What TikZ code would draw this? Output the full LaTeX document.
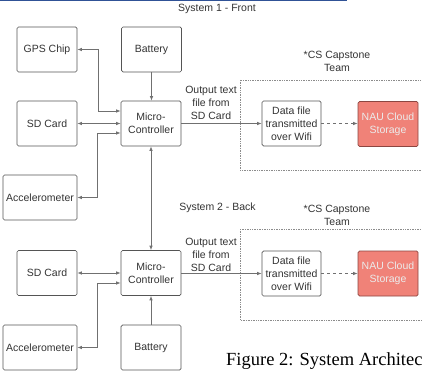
\documentclass[tikz,border=0pt]{standalone}
\usepackage{fontspec}
\setmainfont{Liberation Sans}
\newfontfamily\capfont{Liberation Serif}
\usetikzlibrary{arrows.meta}

\definecolor{wiregrey}{RGB}{112,112,112}
\definecolor{edgegrey}{RGB}{85,85,85}
\definecolor{cloudfill}{RGB}{240,130,120}
\definecolor{cloudedge}{RGB}{140,70,65}
\definecolor{rulebar}{RGB}{48,82,150}

\begin{document}
\begin{tikzpicture}[x=1pt,y=-1pt,
  block/.style={draw=edgegrey,line width=0.7pt,rounded corners=1.5pt,
    minimum width=60pt,minimum height=45pt,inner sep=1pt,align=center,
    font=\fontsize{10.5}{13}\selectfont,text=black!80},
  cloudbox/.style={block,fill=cloudfill,draw=cloudedge,text=white!92!black},
  note/.style={align=center,font=\fontsize{10.5}{13}\selectfont,text=black!80},
  wire/.style={draw=wiregrey,line width=0.8pt},
  onearrow/.style={-{Latex[length=4.5pt,width=3.5pt]}},
  twoarrow/.style={{Latex[length=4.5pt,width=3.5pt]}-{Latex[length=4.5pt,width=3.5pt]}},
  team/.style={draw=black!45,densely dotted,line width=0.7pt}]

\useasboundingbox (0,0) rectangle (422,371);
\clip (0,0) rectangle (422,371);

% rule across the top
\draw[rulebar,line width=2pt] (0,0) -- (347,0);

% System 1
\node[note] at (217,9) {System 1 - Front};

\node[block] (gps1) at (47,49.5) {GPS Chip};
\node[block] (bat1) at (151.5,49.5) {Battery};
\node[block] (sd1) at (47,123.5) {SD Card};
\node[block] (mcu1) at (151,123.5) {Micro-\\Controller};
\node[block,minimum width=74pt] (acc1) at (40,197.5) {Accelerometer};

\coordinate (mcu1a) at ([yshift=12.5pt]mcu1.west);
\coordinate (mcu1c) at ([yshift=-9.5pt]mcu1.west);

\draw[wire,twoarrow] (gps1.east) -- ++(21,0) |- (mcu1a);
\draw[wire,twoarrow] (sd1.east) -- (sd1.east -| mcu1.west);
\draw[wire,twoarrow] (mcu1c) -- ++(-23,0) |- (acc1.east);
\draw[wire,onearrow] (bat1.south) -- (bat1.south |- mcu1.north);

% cloud side
\draw[team] (240,80) rectangle (440,170);
\node[note] at (337,61.5) {*CS Capstone\\Team};
\node[block,minimum width=59pt] (wifi1) at (291.5,123.5) {Data file\\transmitted\\over Wifi};
\node[cloudbox] (nau1) at (388,124) {NAU Cloud\\Storage};

\node[note] at (211,103) {Output text\\file from\\SD Card};
\draw[wire,onearrow] (mcu1.east) -- (wifi1.west);
\draw[wire,onearrow,dashed] (wifi1.east) -- (wifi1.east -| nau1.west);

% System 2
\node[note] at (217.5,208) {System 2 - Back};

\node[block] (sd2) at (47,273) {SD Card};
\node[block] (mcu2) at (151,273) {Micro-\\Controller};
\node[block,minimum width=74pt] (acc2) at (40,347.5) {Accelerometer};
\node[block] (bat2) at (151,347.5) {Battery};

\coordinate (mcu2c) at ([yshift=-10pt]mcu2.west);

\draw[wire,twoarrow] (mcu1.south) -- (mcu2.north);
\draw[wire,twoarrow] (sd2.east) -- (sd2.east -| mcu2.west);
\draw[wire,twoarrow] (mcu2c) -- ++(-23,0) |- (acc2.east);
\draw[wire,onearrow] (bat2.north) -- (mcu2.south);

% cloud side
\draw[team] (240,229) rectangle (440,320);
\node[note] at (337,215.5) {*CS Capstone\\Team};
\node[block,minimum width=59pt] (wifi2) at (291.5,273.5) {Data file\\transmitted\\over Wifi};
\node[cloudbox] (nau2) at (388,273.5) {NAU Cloud\\Storage};

\node[note] at (211,255) {Output text\\file from\\SD Card};
\draw[wire,onearrow] (mcu2.east |- wifi2.west) -- (wifi2.west);
\draw[wire,onearrow,dashed] (wifi2.east) -- (wifi2.east -| nau2.west);

% caption
\node[anchor=base west,font=\capfont\fontsize{18.5}{21}\selectfont,inner sep=0pt]
  (cap) at (226,365) {Figure 2: System Architec};

\end{tikzpicture}
\end{document}
